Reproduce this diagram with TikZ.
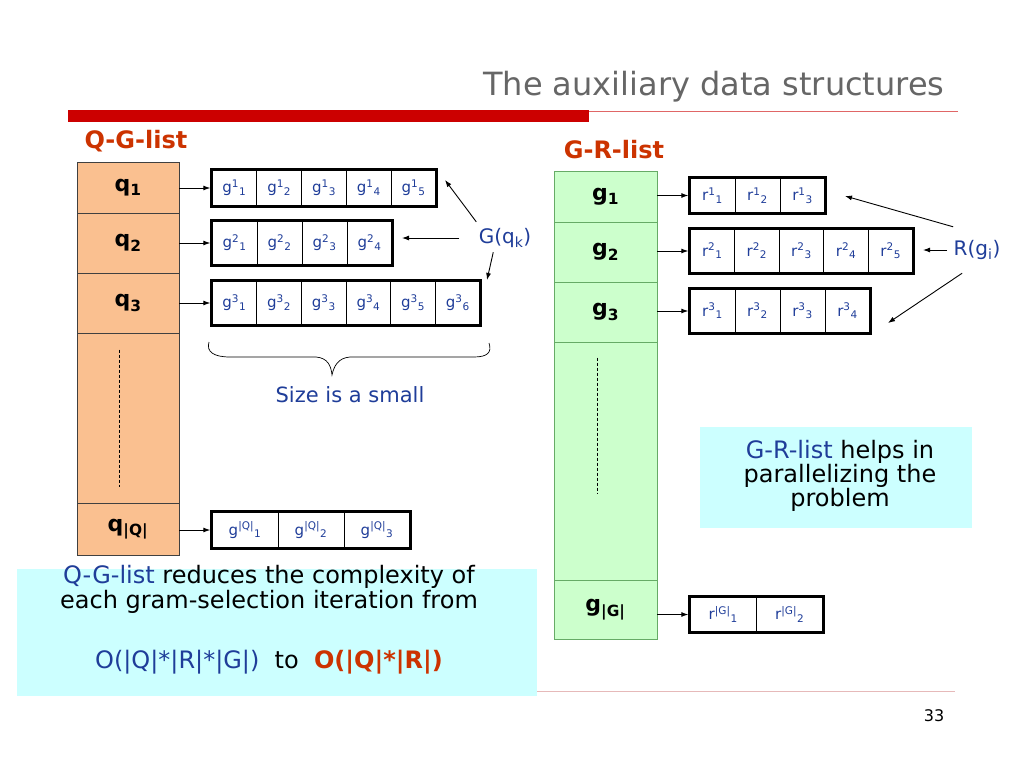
\documentclass[tikz,border=0pt]{standalone}
\usepackage{fontspec}
\setmainfont{DejaVu Sans}
\usepackage{tikz}
\usetikzlibrary{arrows, arrows.meta}
\definecolor{peach}{RGB}{250,192,144}
\definecolor{mint}{RGB}{204,255,204}
\definecolor{aqua}{RGB}{204,255,255}
\definecolor{ink}{RGB}{31,61,153}
\definecolor{rust}{RGB}{204,51,0}
\definecolor{slidered}{RGB}{204,0,0}
\definecolor{titlegrey}{RGB}{102,102,102}
\definecolor{rulepink}{RGB}{230,185,185}

\begin{document}
\begin{tikzpicture}[x=1pt, y=-1pt]
\tikzstyle{qcell}=[rectangle, draw=black!75, line width=0.8pt, fill=peach, minimum width=102pt, inner sep=0pt, font=\fontsize{22}{24}\selectfont\bfseries]
\tikzstyle{gcell}=[qcell, draw=black!55!green!60, fill=mint, minimum width=103pt]
\tikzstyle{entry}=[rectangle, draw, line width=0.8pt, inner sep=0pt, text=ink, font=\fontsize{15}{17}\selectfont]
\tikzstyle{listframe}=[draw, line width=2.6pt]
\tikzstyle{ptr}=[-{Latex[length=7pt,width=5pt]}, line width=0.9pt]
\tikzstyle{note}=[rectangle, fill=aqua, inner sep=0pt]

\useasboundingbox[fill=white] (0,0) rectangle (1024,768);

% title and rules
\node[anchor=east, text=titlegrey, font=\fontsize{32}{34}\selectfont] (title) at (948,87) {The auxiliary data structures};
\fill[slidered] (68,110) rectangle (589,122);
\draw[slidered!60, line width=0.8pt] (589,111) -- (958,111);
\draw[rulepink, line width=0.8pt] (68,691) -- (955,691);
\node[font=\fontsize{16}{18}\selectfont] (pagenum) at (934,716) {33};

% Q-G-list
\node[text=rust, font=\fontsize{24}{26}\selectfont\bfseries] (qglabel) at (136,141) {Q-G-list};
\node[qcell, minimum height=51pt] (q1) at (128,187.5) {q\textsubscript{1}};
\node[qcell, minimum height=60pt] (q2) at (128,243) {q\textsubscript{2}};
\node[qcell, minimum height=60pt] (q3) at (128,303) {q\textsubscript{3}};
\node[qcell, minimum height=170pt] (qdots) at (128,418) {};
\node[qcell, minimum height=52pt] (qQ) at (128,529) {q\textsubscript{|Q|}};
\draw[dash pattern=on 3pt off 2pt, line width=0.6pt] ([shift={(-9pt,-17pt)}]qdots.north) -- ([shift={(-9pt,16pt)}]qdots.south);

\foreach \i in {1,...,5}
  \node[entry, minimum width=44.8pt, minimum height=36pt] (g1-\i) at ({212+44.8*\i-22.4},188) {g\textsuperscript{1}\textsubscript{\i}};
\foreach \i in {1,...,4}
  \node[entry, minimum width=45pt, minimum height=44pt] (g2-\i) at ({212+45*\i-22.5},243) {g\textsuperscript{2}\textsubscript{\i}};
\foreach \i in {1,...,6}
  \node[entry, minimum width=44.7pt, minimum height=44pt] (g3-\i) at ({212+44.7*\i-22.35},303) {g\textsuperscript{3}\textsubscript{\i}};
\foreach \i in {1,...,3}
  \node[entry, minimum width=66pt, minimum height=36pt] (gQ-\i) at ({212+66*\i-33},530) {g\textsuperscript{|Q|}\textsubscript{\i}};
\draw[listframe] (g1-1.north west) rectangle (g1-5.south east);
\draw[listframe] (g2-1.north west) rectangle (g2-4.south east);
\draw[listframe] (g3-1.north west) rectangle (g3-6.south east);
\draw[listframe] (gQ-1.north west) rectangle (gQ-3.south east);

\draw[ptr, shorten >=1.3pt] (q1.east |- g1-1) -- (g1-1.west);
\draw[ptr, shorten >=1.3pt] (q2.east |- g2-1) -- (g2-1.west);
\draw[ptr, shorten >=1.3pt] (q3.east |- g3-1) -- (g3-1.west);
\draw[ptr, shorten >=1.3pt] (qQ.east |- gQ-1) -- (gQ-1.west);

\node[text=ink, font=\fontsize{20}{22}\selectfont] (Gq) at (505,238) {G(q\textsubscript{k})};
\coordinate (Gt1) at (445,180);
\coordinate (Gt2) at (402,238);
\coordinate (Gt3) at (487,280);
\draw[ptr] ([shift={(1pt,3pt)}]Gq.north west) -- (Gt1);
\draw[ptr] ([xshift=-16pt]Gq.west) -- (Gt2);
\draw[ptr] ([shift={(18pt,-1pt)}]Gq.south west) -- (Gt3);

% brace under the lists
\draw[line width=0.7pt] (209,342) .. controls (206,352) and (214,357) .. (230,357) -- (316,357)
  .. controls (328,358) and (331,366) .. (332,375) .. controls (334,366) and (338,358) .. (350,357)
  -- (474,357) .. controls (488,357) and (492,352) .. (489,343);
\node[text=ink, font=\fontsize{21}{23}\selectfont] (sizenote) at (350,395) {Size is a small};

% G-R-list
\node[text=rust, font=\fontsize{24}{26}\selectfont\bfseries] (grlabel) at (614,150) {G-R-list};
\node[gcell, minimum height=51pt] (g1) at (605.5,196.5) {g\textsubscript{1}};
\node[gcell, minimum height=60pt] (g2) at (605.5,252) {g\textsubscript{2}};
\node[gcell, minimum height=60pt] (g3) at (605.5,312) {g\textsubscript{3}};
\node[gcell, minimum height=238pt] (gdots) at (605.5,461) {};
\node[gcell, minimum height=59pt] (gG) at (605.5,609.5) {g\textsubscript{|G|}};
\draw[dash pattern=on 3pt off 2pt, line width=0.6pt] ([shift={(-8pt,-16pt)}]gdots.north) -- ([shift={(-8pt,87pt)}]gdots.south);

\foreach \i in {1,...,3}
  \node[entry, minimum width=45pt, minimum height=35pt] (r1-\i) at ({690+45*\i-22.5},195.5) {r\textsuperscript{1}\textsubscript{\i}};
\foreach \i in {1,...,5}
  \node[entry, minimum width=44.6pt, minimum height=44pt] (r2-\i) at ({690+44.6*\i-22.3},251) {r\textsuperscript{2}\textsubscript{\i}};
\foreach \i in {1,...,4}
  \node[entry, minimum width=45pt, minimum height=44pt] (r3-\i) at ({690+45*\i-22.5},311) {r\textsuperscript{3}\textsubscript{\i}};
\foreach \i in {1,...,2}
  \node[entry, minimum width=66.5pt, minimum height=35pt] (rG-\i) at ({690+66.5*\i-33.25},614.5) {r\textsuperscript{|G|}\textsubscript{\i}};
\draw[listframe] (r1-1.north west) rectangle (r1-3.south east);
\draw[listframe] (r2-1.north west) rectangle (r2-5.south east);
\draw[listframe] (r3-1.north west) rectangle (r3-4.south east);
\draw[listframe] (rG-1.north west) rectangle (rG-2.south east);

\draw[ptr, shorten >=1.3pt] (g1.east |- r1-1) -- (r1-1.west);
\draw[ptr, shorten >=1.3pt] (g2.east |- r2-1) -- (r2-1.west);
\draw[ptr, shorten >=1.3pt] (g3.east |- r3-1) -- (r3-1.west);
\draw[ptr, shorten >=1.3pt] (gG.east |- rG-1) -- (rG-1.west);

\node[text=ink, font=\fontsize{20}{22}\selectfont] (Rg) at (977,250) {R(g\textsubscript{i})};
\coordinate (Rt1) at (845,196);
\coordinate (Rt2) at (923,250);
\coordinate (Rt3) at (888,323);
\draw[ptr] ([shift={(3pt,10pt)}]Rg.north west) -- (Rt1);
\draw[ptr] ([xshift=-3pt]Rg.west) -- (Rt2);
\draw[ptr] ([shift={(12pt,-10pt)}]Rg.south west) -- (Rt3);

% notes
\node[note, minimum width=520pt, minimum height=127pt] (qgnote) at (277,632.5) {};
\node[align=center, font=\fontsize{24}{25}\selectfont] (qgtext) at (269,620)
  {\textcolor{ink}{Q-G-list} reduces the complexity of\\each gram-selection iteration from\\[35pt]
   \textcolor{ink}{O(|Q|*|R|*|G|)}\ \ to\ \ \textcolor{rust}{\bfseries O(|Q|*|R|)}};
\node[note, minimum width=272pt, minimum height=101pt] (grnote) at (836,477.5) {};
\node[align=center, font=\fontsize{24}{24}\selectfont] (grtext) at (840,476)
  {\textcolor{ink}{G-R-list} helps in\\parallelizing the\\problem};

\end{tikzpicture}
\end{document}
